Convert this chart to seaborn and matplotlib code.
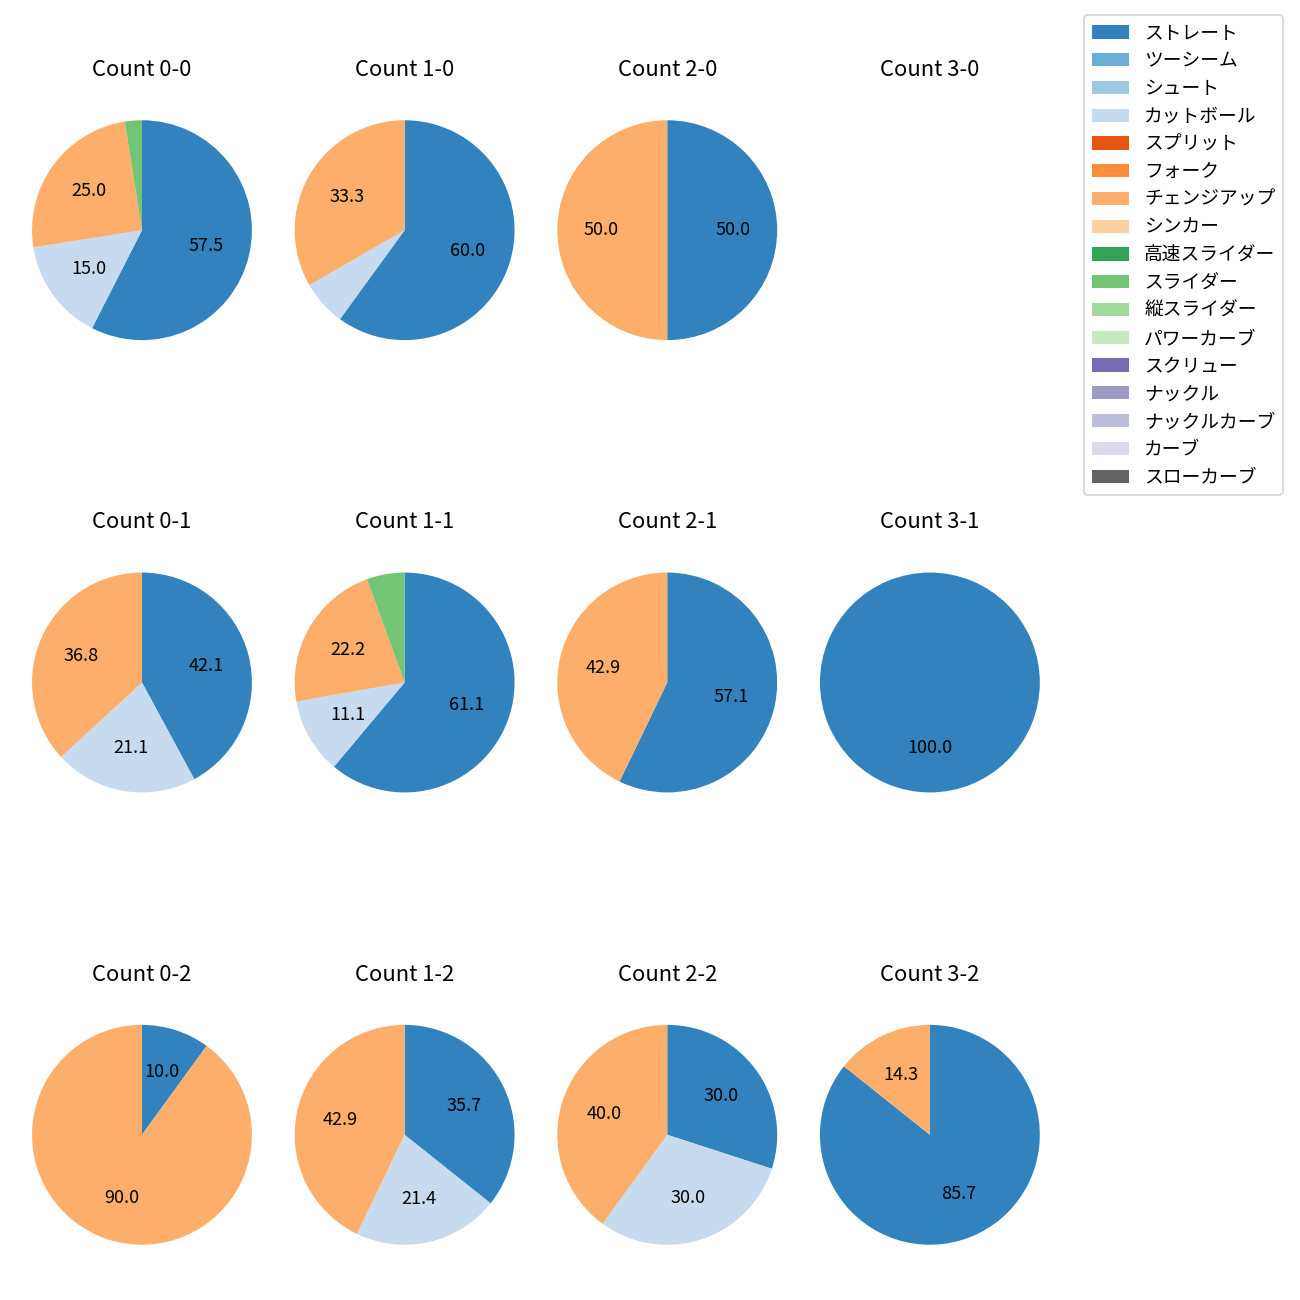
import matplotlib
matplotlib.use("Agg")
import matplotlib.pyplot as plt
import seaborn as sns
from matplotlib.patches import Patch

plt.rcParams['font.family'] = ['Noto Sans CJK JP', 'DejaVu Sans']

# pitch types (legend order)
pitch_types = ['ストレート', 'ツーシーム', 'シュート', 'カットボール', 'スプリット', 'フォーク',
               'チェンジアップ', 'シンカー', '高速スライダー', 'スライダー', '縦スライダー',
               'パワーカーブ', 'スクリュー', 'ナックル', 'ナックルカーブ', 'カーブ', 'スローカーブ']

counts = ['0-0', '1-0', '2-0', '3-0',
          '0-1', '1-1', '2-1', '3-1',
          '0-2', '1-2', '2-2', '3-2']

# pitch counts per ball-strike count: ストレート, カットボール, チェンジアップ, スライダー
straight = [23, 9, 1, 0, 8, 11, 4, 1, 1, 5, 3, 6]
cutter = [6, 1, 0, 0, 4, 2, 0, 0, 0, 3, 3, 0]
changeup = [10, 5, 1, 0, 7, 4, 3, 0, 9, 6, 4, 1]
slider = [1, 0, 0, 0, 0, 1, 0, 0, 0, 0, 0, 0]

colors = sns.color_palette('tab20c', 20)[:17]
colors[16] = (0x63 / 255, 0x63 / 255, 0x63 / 255)

fig, axes = plt.subplots(3, 4, figsize=(10, 10), dpi=130)
fig.subplots_adjust(left=0.0035, right=0.821, top=0.948, bottom=0.002,
                    wspace=-0.0444, hspace=0.391)


def pct_label(p):
    return f'{p:.1f}' if p >= 10 else ''


for i, ax in enumerate(axes.flat):
    vals = [0] * len(pitch_types)
    vals[pitch_types.index('ストレート')] = straight[i]
    vals[pitch_types.index('カットボール')] = cutter[i]
    vals[pitch_types.index('チェンジアップ')] = changeup[i]
    vals[pitch_types.index('スライダー')] = slider[i]
    if sum(vals) > 0:
        ax.pie(vals, colors=colors, startangle=90, counterclock=False,
               autopct=pct_label, textprops={'fontsize': 10})
    else:
        ax.set_xlim(-1.25, 1.25)
        ax.set_ylim(-1.25, 1.25)
        ax.set_aspect('equal')
        ax.axis('off')
    ax.set_title(f'Count {counts[i]}', fontsize=12.2, pad=9.3)

handles = [Patch(facecolor=c, label=p) for c, p in zip(colors, pitch_types)]
fig.legend(handles=handles, loc='upper right', bbox_to_anchor=(1283 / 1300, 1 - 15 / 1300),
           borderaxespad=0, fontsize=10.4, labelspacing=0.36)

fig.savefig('out.png', dpi=130)
